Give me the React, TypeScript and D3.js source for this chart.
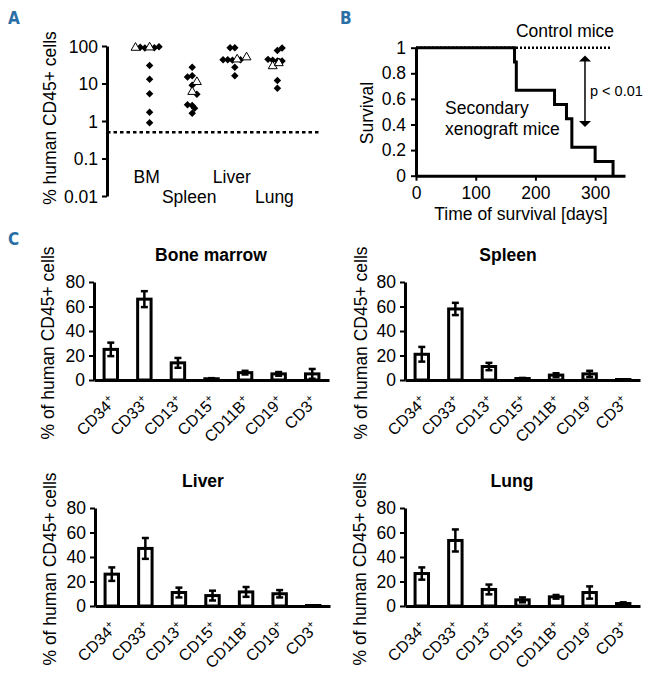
import React, { useEffect, useRef } from "react";
import * as d3 from "d3";

const FONT = "'Liberation Sans', Arial, sans-serif";
const LETTER_FONT = "'DejaVu Sans Condensed', 'Roboto', sans-serif";
const LETTER_COLOR = "#2a6ea6";
const FS = 17.5;

// ---------- Panel A data ----------
const organs = ["BM", "Spleen", "Liver", "Lung"];
const logTicks = [0.01, 0.1, 1, 10, 100];
const logTickLabels = ["0.01", "0.1", "1", "10", "100"];
const detectionLimit = 0.5;

const bmValues = [90, 92, 88, 92, 90, 95, 30, 13, 5.3, 1.7, 0.9];
const bmSlots = [-3, -2, -1, 0, 1, 2, 0, 0, 0, 0, 0];
const bmShapes = ["t", "d", "d", "t", "d", "d", "d", "d", "d", "d", "d"];

const spleenValues = [27, 15, 16, 11, 9, 6, 5.2, 2.7, 2.6, 2.2, 1.6];
const spleenSlots = [0, -1, 0, 1, 0, 0, 1, -1, 0, 0.5, 0];
const spleenShapes = ["d", "d", "d", "t", "d", "t", "d", "d", "d", "d", "d"];

const liverValues = [90, 90, 43, 43, 42, 44, 43, 50, 27, 16];
const liverSlots = [-1, 0, -2.5, -1.5, -0.5, 0.5, 1.2, 2.5, 0, 0];
const liverShapes = ["d", "d", "d", "d", "d", "t", "d", "t", "d", "d"];

const lungValues = [88, 76, 44, 42, 40, 38, 40, 29, 35, 12, 7.5];
const lungSlots = [1, 0, -2, -1, 0, 0.5, 1, -1, 0.3, 0, 0];
const lungShapes = ["d", "d", "d", "d", "d", "d", "d", "t", "t", "d", "d"];

// ---------- Panel B data ----------
const survivalDays = [165, 168, 168, 232, 252, 261, 261, 300, 330];
const controlEndDay = 325;
const survTicks = [0, 0.2, 0.4, 0.6, 0.8, 1];
const survTickLabels = ["0", "0.2", "0.4", "0.6", "0.8", "1"];
const dayTicks = [0, 100, 200, 300];
const dayMax = 350;
const pArrowDay = 283;
const pArrowRange = [0.94, 0.38];

// ---------- Panel C data ----------
const markers = ["CD34", "CD33", "CD13", "CD15", "CD11B", "CD19", "CD3"];
const pctTicks = [0, 20, 40, 60, 80];

const bmMeans = [25, 66, 14, 1, 6, 5, 5];
const bmErrs = [5.5, 6.5, 4, 0.5, 1.5, 1.5, 4];
const spleenMeans = [21, 58, 11, 1.2, 4, 5, 0.4];
const spleenErrs = [6, 5, 3, 0.5, 1.5, 2.5, 0.2];
const liverMeans = [26, 47, 11, 8.5, 11.5, 10, 0.4];
const liverErrs = [5.5, 8.5, 4, 4, 4, 3, 0.2];
const lungMeans = [26.5, 53.5, 13.5, 5, 7.5, 11, 2];
const lungErrs = [5, 9, 4, 2, 1.5, 5, 1];

export default function App() {
  const ref = useRef<SVGSVGElement | null>(null);

  useEffect(() => {
    const svg = d3.select(ref.current);
    svg.selectAll("*").remove();

    const letter = (t: string, x: number, y: number) =>
      svg
        .append("text")
        .attr("x", x)
        .attr("y", y)
        .attr("font-family", LETTER_FONT)
        .attr("font-weight", "bold")
        .attr("font-size", 17)
        .attr("fill", LETTER_COLOR)
        .text(t);

    const styleAxis = (g: any, domainW = 3) => {
      g.attr("font-family", FONT).attr("font-size", FS);
      g.select(".domain").attr("stroke", "#000").attr("stroke-width", domainW);
      g.selectAll(".tick line").attr("stroke", "#000").attr("stroke-width", 2);
      g.selectAll(".tick text").attr("fill", "#000");
    };

    // ================= Panel A =================
    letter("A", 8, 24);
    const yA = d3.scaleLog().domain([0.01, 100]).range([196, 46]);
    const xA = d3.scalePoint().domain(organs).range([107, 320]).padding(1);
    const slotW = 4.7;

    const gAy = svg.append("g").attr("transform", "translate(107,0)");
    gAy.call(
      d3
        .axisLeft(yA)
        .tickValues(logTicks)
        .tickFormat((d, i) => logTickLabels[i])
        .tickSize(5)
        .tickSizeOuter(0)
        .tickPadding(4)
    );
    styleAxis(gAy);
    gAy.selectAll(".tick text").attr("dy", "0.36em");

    svg
      .append("line")
      .attr("x1", 107)
      .attr("x2", 320)
      .attr("y1", yA(detectionLimit))
      .attr("y2", yA(detectionLimit))
      .attr("stroke", "#000")
      .attr("stroke-width", 2.5)
      .attr("stroke-dasharray", "3.5,3");

    svg
      .append("text")
      .attr("transform", `translate(56,${(46 + 196) / 2 - 3}) rotate(-90)`)
      .attr("text-anchor", "middle")
      .attr("font-family", FONT)
      .attr("font-size", FS)
      .text("% human CD45+ cells");

    const organData = [
      [bmValues, bmSlots, bmShapes],
      [spleenValues, spleenSlots, spleenShapes],
      [liverValues, liverSlots, liverShapes],
      [lungValues, lungSlots, lungShapes],
    ] as [number[], number[], string[]][];

    const diamond = d3.symbol(d3.symbolSquare, 28)();
    const triangle = d3.symbol(d3.symbolTriangle, 34)();
    organData.forEach(([vals, slots, shapes], oi) => {
      const cx = xA(organs[oi]) as number;
      const idx = vals
        .map((_, i) => i)
        .sort((a, b) => (shapes[a] === "t" ? 1 : 0) - (shapes[b] === "t" ? 1 : 0));
      idx.forEach((i) => {
        const x = cx + slots[i] * slotW;
        const y = yA(vals[i]);
        if (shapes[i] === "d") {
          svg
            .append("path")
            .attr("d", diamond)
            .attr("transform", `translate(${x},${y}) rotate(45)`)
            .attr("fill", "#000");
        } else {
          svg
            .append("path")
            .attr("d", triangle)
            .attr("transform", `translate(${x},${y})`)
            .attr("fill", "#fff")
            .attr("stroke", "#000")
            .attr("stroke-width", 1);
        }
      });
    });

    organs.forEach((o, i) => {
      svg
        .append("text")
        .attr("x", (xA(o) as number) - 3)
        .attr("y", i % 2 === 0 ? 183 : 203)
        .attr("text-anchor", "middle")
        .attr("font-family", FONT)
        .attr("font-size", FS)
        .text(o);
    });

    // ================= Panel B =================
    letter("B", 340, 24);
    const xB = d3.scaleLinear().domain([0, dayMax]).range([416, 625]);
    const yB = d3.scaleLinear().domain([0, 1]).range([175.7, 47.7]);

    const n = survivalDays.length;
    const uniq = Array.from(new Set(survivalDays)).sort((a, b) => a - b);
    let atRisk = n;
    let s = 1;
    const km: [number, number][] = [[0, 1]];
    uniq.forEach((t) => {
      const deaths = survivalDays.filter((d) => d === t).length;
      s = s * (1 - deaths / atRisk);
      atRisk -= deaths;
      km.push([t, Math.max(0, s)]);
    });

    svg
      .append("line")
      .attr("x1", xB(0))
      .attr("x2", xB(controlEndDay))
      .attr("y1", yB(1))
      .attr("y2", yB(1))
      .attr("stroke", "#000")
      .attr("stroke-width", 2.5)
      .attr("stroke-dasharray", "2,2");

    const line = d3
      .line<[number, number]>()
      .x((d) => xB(d[0]))
      .y((d) => yB(d[1]))
      .curve(d3.curveStepAfter);
    svg
      .append("path")
      .attr("d", line(km))
      .attr("fill", "none")
      .attr("stroke", "#000")
      .attr("stroke-width", 3);

    const gBx = svg.append("g").attr("transform", `translate(0,${yB(0)})`);
    gBx.call(d3.axisBottom(xB).tickValues(dayTicks).tickSize(5).tickSizeOuter(0).tickPadding(6));
    styleAxis(gBx);
    const gBy = svg.append("g").attr("transform", `translate(${xB(0)},0)`);
    gBy.call(
      d3
        .axisLeft(yB)
        .tickValues(survTicks)
        .tickFormat((d, i) => survTickLabels[i])
        .tickSize(5)
        .tickSizeOuter(0)
        .tickPadding(5)
    );
    styleAxis(gBy);

    svg
      .append("text")
      .attr("transform", `translate(373,113) rotate(-90)`)
      .attr("text-anchor", "middle")
      .attr("font-family", FONT)
      .attr("font-size", FS)
      .text("Survival");
    svg
      .append("text")
      .attr("x", 521)
      .attr("y", 220)
      .attr("text-anchor", "middle")
      .attr("font-family", FONT)
      .attr("font-size", FS)
      .text("Time of survival [days]");
    svg
      .append("text")
      .attr("x", 565)
      .attr("y", 37)
      .attr("text-anchor", "middle")
      .attr("font-family", FONT)
      .attr("font-size", FS)
      .text("Control mice");
    svg
      .append("text")
      .attr("x", 445)
      .attr("y", 114)
      .attr("font-family", FONT)
      .attr("font-size", FS)
      .text("Secondary");
    svg
      .append("text")
      .attr("x", 445)
      .attr("y", 135)
      .attr("font-family", FONT)
      .attr("font-size", FS)
      .text("xenograft mice");
    svg
      .append("text")
      .attr("x", 590)
      .attr("y", 96)
      .attr("font-family", FONT)
      .attr("font-size", 14.5)
      .text("p < 0.01");

    const ax = xB(pArrowDay);
    const ay1 = yB(pArrowRange[0]);
    const ay2 = yB(pArrowRange[1]);
    svg
      .append("line")
      .attr("x1", ax)
      .attr("x2", ax)
      .attr("y1", ay1 + 4)
      .attr("y2", ay2 - 4)
      .attr("stroke", "#000")
      .attr("stroke-width", 1.5);
    svg
      .append("path")
      .attr("d", `M${ax},${ay1} L${ax - 6},${ay1 + 6} L${ax + 6},${ay1 + 6} Z`)
      .attr("fill", "#000");
    svg
      .append("path")
      .attr("d", `M${ax},${ay2} L${ax - 6},${ay2 - 6} L${ax + 6},${ay2 - 6} Z`)
      .attr("fill", "#000");

    // ================= Panel C =================
    letter("C", 8, 245);
    const panels = [
      { title: "Bone marrow", means: bmMeans, errs: bmErrs, ax: 94, base: 380, tx: 211, ty: 261, lx: 54 },
      { title: "Spleen", means: spleenMeans, errs: spleenErrs, ax: 405, base: 380, tx: 508, ty: 261, lx: 367 },
      { title: "Liver", means: liverMeans, errs: liverErrs, ax: 95, base: 606, tx: 203, ty: 487, lx: 56 },
      { title: "Lung", means: lungMeans, errs: lungErrs, ax: 405, base: 606, tx: 512, ty: 487, lx: 366 },
    ];

    panels.forEach((p) => {
      const g = svg.append("g");
      const x = d3
        .scaleBand()
        .domain(markers)
        .range([p.ax, p.ax + 235])
        .paddingInner(0.6)
        .paddingOuter(0.3);
      const y = d3.scaleLinear().domain([0, 80]).range([p.base, p.base - 98]);

      g.selectAll("rect.bar")
        .data(p.means)
        .enter()
        .append("rect")
        .attr("x", (_, i) => x(markers[i]) as number)
        .attr("width", x.bandwidth())
        .attr("y", (d) => y(d))
        .attr("height", (d) => Math.max(0, y(0) - y(d)))
        .attr("fill", "#fff")
        .attr("stroke", "#000")
        .attr("stroke-width", 3);

      p.means.forEach((m, i) => {
        const cx = (x(markers[i]) as number) + x.bandwidth() / 2;
        const e = p.errs[i];
        const yt = y(m + e);
        const yb = y(Math.max(0, m - e));
        g.append("line")
          .attr("x1", cx)
          .attr("x2", cx)
          .attr("y1", yt)
          .attr("y2", yb)
          .attr("stroke", "#000")
          .attr("stroke-width", 2.5);
        [yt, yb].forEach((yy) =>
          g
            .append("line")
            .attr("x1", cx - 3.5)
            .attr("x2", cx + 3.5)
            .attr("y1", yy)
            .attr("y2", yy)
            .attr("stroke", "#000")
            .attr("stroke-width", 2.5)
        );
      });

      const gy = g.append("g").attr("transform", `translate(${p.ax},0)`);
      gy.call(d3.axisLeft(y).tickValues(pctTicks).tickSize(5).tickSizeOuter(0).tickPadding(4));
      styleAxis(gy);
      const gx = g.append("g").attr("transform", `translate(0,${p.base})`);
      gx.call(d3.axisBottom(x).tickSize(0).tickSizeOuter(0).tickPadding(0));
      styleAxis(gx);
      gx.selectAll(".tick text").each(function (d: any) {
        const t = d3.select(this);
        t.text(null)
          .attr("text-anchor", "end")
          .attr("font-size", 16)
          .attr("y", 0)
          .attr("dy", 0)
          .attr("transform", "translate(6,23) rotate(-45)");
        t.append("tspan").text(d);
        t.append("tspan").attr("font-size", 11).attr("dy", -6).text("+");
      });

      g.append("text")
        .attr("x", p.tx)
        .attr("y", p.ty)
        .attr("text-anchor", "middle")
        .attr("font-family", FONT)
        .attr("font-weight", "bold")
        .attr("font-size", FS)
        .text(p.title);

      g.append("text")
        .attr("transform", `translate(${p.lx},${p.base - 37}) rotate(-90)`)
        .attr("text-anchor", "middle")
        .attr("font-family", FONT)
        .attr("font-size", FS)
        .text("% of human CD45+ cells");
    });
  }, []);

  return (
    <svg
      ref={ref}
      width={651}
      height={676}
      style={{ position: "absolute", left: 0, top: 0, background: "#fff" }}
    />
  );
}
